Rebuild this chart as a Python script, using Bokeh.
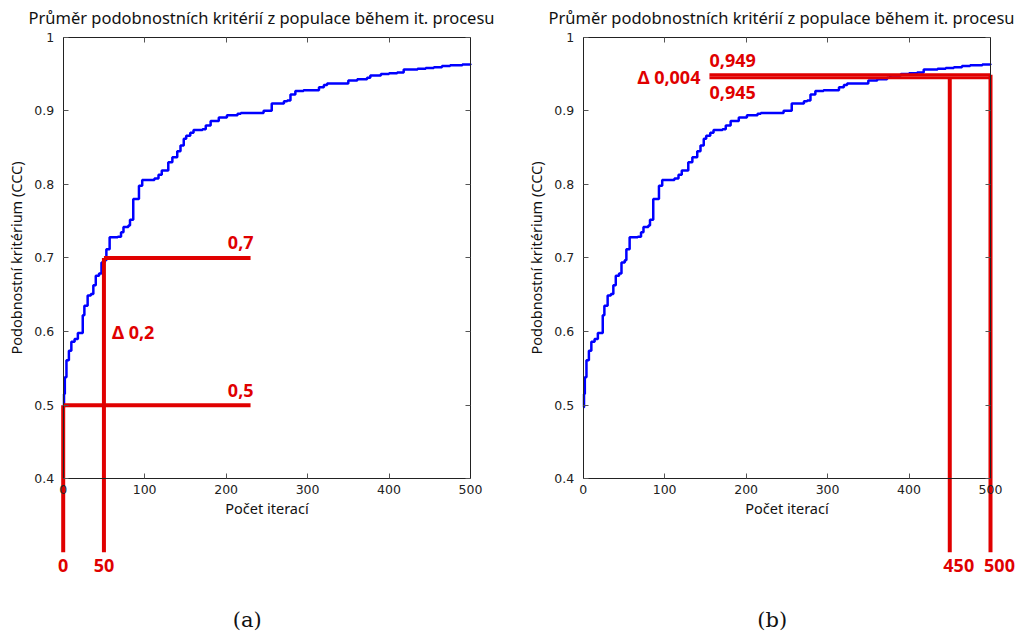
from bokeh.plotting import figure
from bokeh.models import Range1d, LinearAxis, FixedTicker
from bokeh.layouts import row
from bokeh.core.properties import value
from bokeh.embed import file_html
from bokeh.resources import INLINE

# Mean similarity criterion (CCC) of the population over the iterations
# (value holds from the given iteration until the next one)
iterations = [0, 1, 2, 4, 7, 10, 14, 18, 24, 26, 30, 34, 37, 40, 44, 47, 51, 53,
              57, 67, 71, 74, 80, 82, 86, 93, 97, 112, 117, 121, 129, 134, 140,
              144, 148, 151, 156, 160, 171, 175, 181, 191, 201, 214, 218, 246,
              256, 271, 275, 279, 285, 295, 314, 320, 324, 350, 361, 373, 377,
              390, 400, 410, 418, 435, 445, 455, 465, 475, 490, 500]
mean_ccc = [0.497, 0.515, 0.538, 0.561, 0.574, 0.586, 0.590, 0.598, 0.622, 0.635,
            0.649, 0.651, 0.663, 0.676, 0.679, 0.694, 0.697, 0.712, 0.728, 0.729,
            0.735, 0.742, 0.744, 0.752, 0.780, 0.798, 0.806, 0.808, 0.813, 0.819,
            0.830, 0.837, 0.845, 0.853, 0.862, 0.866, 0.870, 0.874, 0.875, 0.880,
            0.886, 0.891, 0.894, 0.896, 0.897, 0.900, 0.910, 0.913, 0.914, 0.922,
            0.927, 0.928, 0.932, 0.935, 0.937, 0.941, 0.943, 0.945, 0.948, 0.950,
            0.951, 0.952, 0.956, 0.957, 0.958, 0.959, 0.961, 0.962, 0.963, 0.964]

title_text = "Průměr podobnostních kritérií z populace během it. procesu"
x_label = "Počet iterací"
y_label = "Podobnostní kritérium (CCC)"
x_ticks = [0, 100, 200, 300, 400, 500]
y_ticks = [0.4, 0.5, 0.6, 0.7, 0.8, 0.9, 1.0]
y_tick_labels = ["0.4", "0.5", "0.6", "0.7", "0.8", "0.9", "1"]

# panel (a): early phase
a_iters = [0, 50]
a_levels = [0.5, 0.7]
a_level_labels = ["0,5", "0,7"]
a_iter_labels = ["0", "50"]
a_delta_label = "Δ 0,2"

# panel (b): late phase
b_iters = [450, 500]
b_levels = [0.945, 0.949]
b_level_labels = ["0,945", "0,949"]
b_iter_labels = ["450", "500"]
b_delta_label = "Δ 0,004"

captions = ["(a)", "(b)"]

RED = "#e00000"
BLUE = "#0000ff"
HEIGHT = 632
TITLE_H = 30
PX_PER_ITER = 0.8146      # horizontal scale
PX_PER_UNIT = 735.9       # vertical scale
ORIGIN_X = 62.7           # pixel position of iteration 0
TOP_Y = 36.7              # pixel position of CCC = 1
X_MIN, X_MAX = 0, 500
Y_MIN, Y_MAX = 0.4, 1.0
GUIDE_BOTTOM = 0.3        # where the red guide lines end below the axes
SANS = "Noto Sans"


def add_axes(p):
    common = dict(axis_line_color="#222222", major_tick_line_color="#555555",
                  major_tick_in=5, major_tick_out=0, minor_tick_line_color=None,
                  major_label_text_font="DejaVu Sans",
                  major_label_text_font_size="12.5px",
                  major_label_text_color="#222222",
                  axis_label_text_font=SANS, axis_label_text_font_size="14.5px",
                  axis_label_text_font_style="normal",
                  axis_label_text_color="#111111")
    bottom = LinearAxis(fixed_location=Y_MIN, bounds=(X_MIN, X_MAX),
                        ticker=FixedTicker(ticks=x_ticks), axis_label=x_label,
                        major_label_standoff=6, axis_label_standoff=1, **common)
    left = LinearAxis(fixed_location=X_MIN, bounds=(Y_MIN, Y_MAX),
                      ticker=FixedTicker(ticks=y_ticks), axis_label=y_label,
                      major_label_overrides=dict(zip(y_ticks, y_tick_labels)),
                      major_label_standoff=9, axis_label_standoff=6, **common)
    top = LinearAxis(fixed_location=Y_MAX, bounds=(X_MIN, X_MAX),
                     ticker=FixedTicker(ticks=x_ticks),
                     major_label_overrides={t: "" for t in x_ticks}, **common)
    right = LinearAxis(fixed_location=X_MAX, bounds=(Y_MIN, Y_MAX),
                       ticker=FixedTicker(ticks=y_ticks),
                       major_label_overrides={t: "" for t in y_ticks}, **common)
    p.add_layout(bottom, "below")
    p.add_layout(left, "left")
    p.add_layout(top, "above")
    p.add_layout(right, "right")


def make_panel(width, caption, caption_x):
    p = figure(width=width, height=HEIGHT,
               x_range=Range1d(-ORIGIN_X / PX_PER_ITER, (width - ORIGIN_X) / PX_PER_ITER),
               y_range=Range1d(Y_MAX - (HEIGHT - TOP_Y) / PX_PER_UNIT,
                               Y_MAX + (TOP_Y - TITLE_H) / PX_PER_UNIT),
               x_axis_type=None, y_axis_type=None,
               toolbar_location=None, output_backend="svg",
               min_border_left=0, min_border_right=0, min_border_bottom=0,
               min_border_top=TITLE_H)
    p.outline_line_color = None
    p.background_fill_color = "white"
    p.border_fill_color = "white"
    p.title.text = title_text
    p.title.text_font = SANS
    p.title.text_font_size = "16.5px"
    p.title.text_font_style = "normal"
    p.title.text_color = "#111111"
    p.title.align = "left"
    p.title.offset = 28
    p.title.standoff = 4
    add_axes(p)

    p.step(iterations, mean_ccc, mode="after", line_color=BLUE, line_width=2.5)

    p.text(x=[caption_x], y=[0.208], text=[caption],
           text_font=value("DejaVu Serif"), text_font_size="21px",
           text_align="center", text_baseline="middle", text_color="#111111")
    return p


def red_text(p, xs, ys, texts, align, x_off, y_off):
    p.text(x=xs, y=ys, text=texts, text_font=value(SANS), text_font_size="18px",
           text_font_style="bold", text_color=RED, text_align=align,
           text_baseline="alphabetic", x_offset=x_off, y_offset=y_off)


# ---- panel (a)
pa = make_panel(520, captions[0], 226)
a_end = [230] * len(a_iters)
pa.segment(x0=a_iters, y0=a_levels, x1=a_end, y1=a_levels,
           line_color=RED, line_width=4)
pa.segment(x0=a_iters, y0=a_levels, x1=a_iters, y1=[GUIDE_BOTTOM] * len(a_iters),
           line_color=RED, line_width=4)
red_text(pa, a_end, a_levels, a_level_labels, "right", 3, -15)
red_text(pa, a_iters, [GUIDE_BOTTOM] * len(a_iters), a_iter_labels, "center", 0, 13)
red_text(pa, [a_iters[1]], [sum(a_levels) / 2], [a_delta_label], "left", 8, 0)

# ---- panel (b)
pb = make_panel(501, captions[1], 232)
b_start = [155] * len(b_iters)
pb.segment(x0=b_start, y0=b_levels, x1=[X_MAX] * len(b_iters), y1=b_levels,
           line_color=RED, line_width=3)
pb.segment(x0=b_iters, y0=b_levels, x1=b_iters, y1=[GUIDE_BOTTOM] * len(b_iters),
           line_color=RED, line_width=4)
red_text(pb, [b_start[1]], [b_levels[1]], [b_level_labels[1]], "left", 0, -14)
red_text(pb, [b_start[0]], [b_levels[0]], [b_level_labels[0]], "left", 0, 15)
red_text(pb, [b_start[0]], [sum(b_levels) / 2], [b_delta_label], "right", -9, 1)
red_text(pb, b_iters, [GUIDE_BOTTOM] * len(b_iters), b_iter_labels, "center", 9, 13)

layout = row(pa, pb, spacing=0)
open("out.html", "w").write(file_html(layout, INLINE))
